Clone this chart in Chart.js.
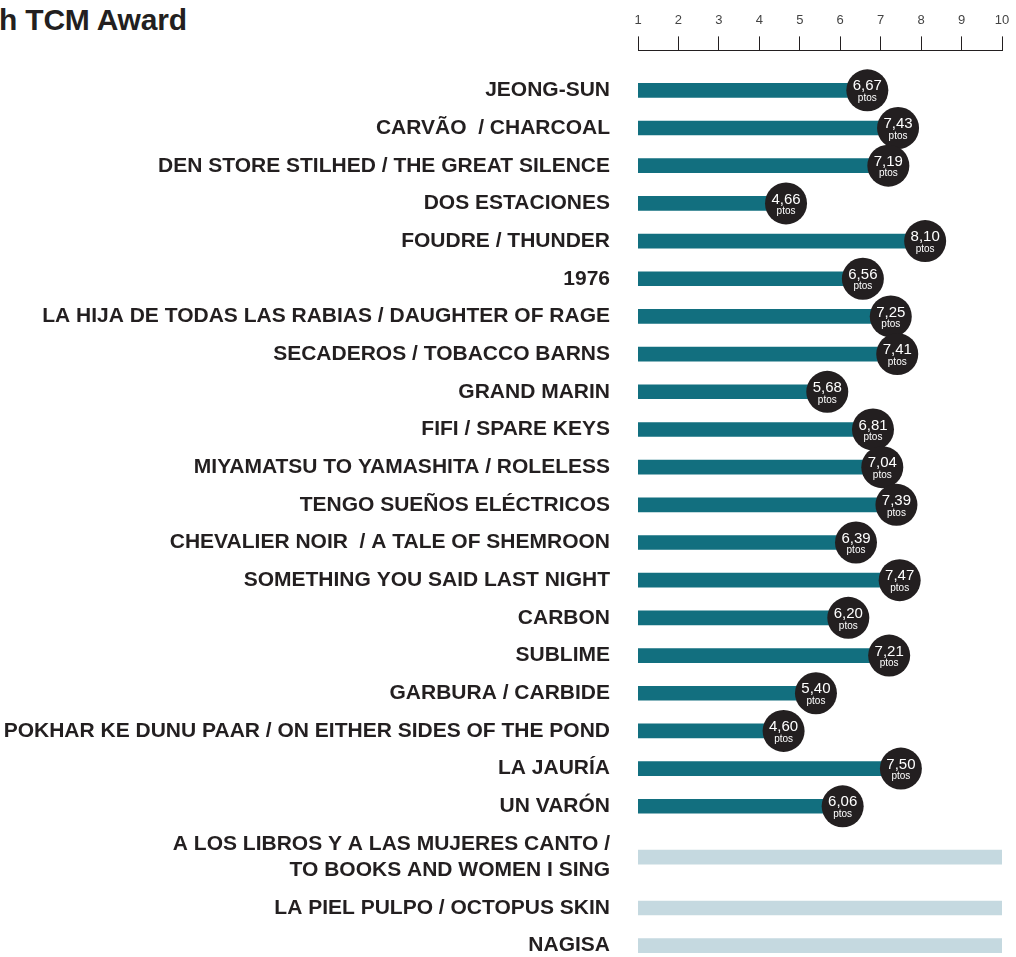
<!DOCTYPE html>
<html>
<head>
<meta charset="utf-8">
<script src="https://cdn.jsdelivr.net/npm/chart.js@4/dist/chart.umd.min.js"></script>
<style>
  html, body { margin: 0; padding: 0; background: #fff; overflow: hidden; }
  #wrap { position: relative; width: 1016px; height: 957px; }
  #title {
    position: absolute; left: -1px; top: 3px;
    font-family: "Liberation Sans", Arial, sans-serif; font-weight: bold;
    font-size: 30px; color: #231f20; white-space: nowrap; letter-spacing: -0.2px;
  }
  canvas { position: absolute; left: 0; top: 0; }
</style>
</head>
<body>
<div id="wrap">
  <div id="title">h TCM Award</div>
  <canvas id="chart" width="1016" height="957"></canvas>
</div>
<script>
// ── Data ──
const films = [
  'JEONG-SUN',
  'CARVÃO  / CHARCOAL',
  'DEN STORE STILHED / THE GREAT SILENCE',
  'DOS ESTACIONES',
  'FOUDRE / THUNDER',
  '1976',
  'LA HIJA DE TODAS LAS RABIAS / DAUGHTER OF RAGE',
  'SECADEROS / TOBACCO BARNS',
  'GRAND MARIN',
  'FIFI / SPARE KEYS',
  'MIYAMATSU TO YAMASHITA / ROLELESS',
  'TENGO SUEÑOS ELÉCTRICOS',
  'CHEVALIER NOIR  / A TALE OF SHEMROON',
  'SOMETHING YOU SAID LAST NIGHT',
  'CARBON',
  'SUBLIME',
  'GARBURA / CARBIDE',
  'POKHAR KE DUNU PAAR / ON EITHER SIDES OF THE POND',
  'LA JAURÍA',
  'UN VARÓN',
  ['A LOS LIBROS Y A LAS MUJERES CANTO /', 'TO BOOKS AND WOMEN I SING'],
  'LA PIEL PULPO / OCTOPUS SKIN',
  'NAGISA'
];
const scores = [6.67, 7.43, 7.19, 4.66, 8.10, 6.56, 7.25, 7.41, 5.68, 6.81, 7.04, 7.39,
  6.39, 7.47, 6.20, 7.21, 5.40, 4.60, 7.50, 6.06, null, null, null];
// films still to be screened: full-width light bar
const pending = [null, null, null, null, null, null, null, null, null, null, null, null,
  null, null, null, null, null, null, null, null, 10, 10, 10];
const xTicks = [1, 2, 3, 4, 5, 6, 7, 8, 9, 10];

// ── Row positions: two-line labels take a taller row ──
const rowH = films.map(f => Array.isArray(f) ? 1 + (f.length - 1) * 0.7 : 1);
const rowPos = [];
rowH.forEach((h, i) => {
  rowPos.push(i === 0 ? 0 : rowPos[i - 1] + (rowH[i - 1] + h) / 2);
});

const toPoints = arr => arr.map((v, i) => v === null ? null : { x: v, y: rowPos[i] }).filter(p => p);

// ── Score badge plugin ──
const badges = {
  id: 'badges',
  afterDatasetsDraw(chart) {
    const { ctx } = chart;
    const meta = chart.getDatasetMeta(0);
    ctx.save();
    meta.data.forEach((bar, i) => {
      const v = meta._parsed[i].x;
      ctx.beginPath();
      ctx.arc(bar.x, bar.y, 21, 0, Math.PI * 2);
      ctx.fillStyle = '#231f20';
      ctx.fill();
      ctx.fillStyle = '#ffffff';
      ctx.textAlign = 'center';
      ctx.textBaseline = 'middle';
      ctx.font = '15px "Liberation Sans", Arial, sans-serif';
      ctx.fillText(v.toFixed(2).replace('.', ','), bar.x, bar.y - 4);
      ctx.font = '10px "Liberation Sans", Arial, sans-serif';
      ctx.fillText('ptos', bar.x, bar.y + 8);
    });
    ctx.restore();
  }
};

new Chart(document.getElementById('chart'), {
  type: 'bar',
  data: {
    datasets: [
      {
        data: toPoints(scores),
        backgroundColor: '#126f7f',
        barThickness: 14,
        grouped: false
      },
      {
        data: toPoints(pending),
        backgroundColor: '#c5d9e0',
        barThickness: 14,
        grouped: false
      }
    ]
  },
  options: {
    indexAxis: 'y',
    responsive: false,
    animation: false,
    layout: { padding: { top: 4, right: 0, left: 0, bottom: 0 } },
    plugins: { legend: { display: false }, tooltip: { enabled: false } },
    scales: {
      x: {
        type: 'linear',
        position: 'top',
        min: 1,
        max: 10,
        afterFit: s => { s.paddingRight = 14; },
        afterBuildTicks: s => { s.ticks = xTicks.map(v => ({ value: v })); },
        grid: { drawOnChartArea: false, tickLength: 14, color: '#231f20', lineWidth: 1 },
        border: { color: '#231f20', width: 1 },
        ticks: { color: '#444', padding: 8.4, font: { family: '"Liberation Sans", Arial, sans-serif', size: 13 } }
      },
      y: {
        type: 'linear',
        reverse: true,
        offset: false,
        min: -1.06,
        max: 23,
        afterFit: s => { s.width = 638; s.paddingTop = 0; s.paddingBottom = 0; },
        afterBuildTicks: s => { s.ticks = rowPos.map(v => ({ value: v })); },
        grid: { display: false, drawTicks: false },
        border: { display: false },
        ticks: {
          autoSkip: false,
          padding: 28,
          color: '#231f20',
          callback: (v, i) => films[i],
          font: { family: '"Liberation Sans", Arial, sans-serif', size: 21, weight: 'bold', lineHeight: 1.25 }
        }
      }
    }
  },
  plugins: [badges]
});
</script>
</body>
</html>
